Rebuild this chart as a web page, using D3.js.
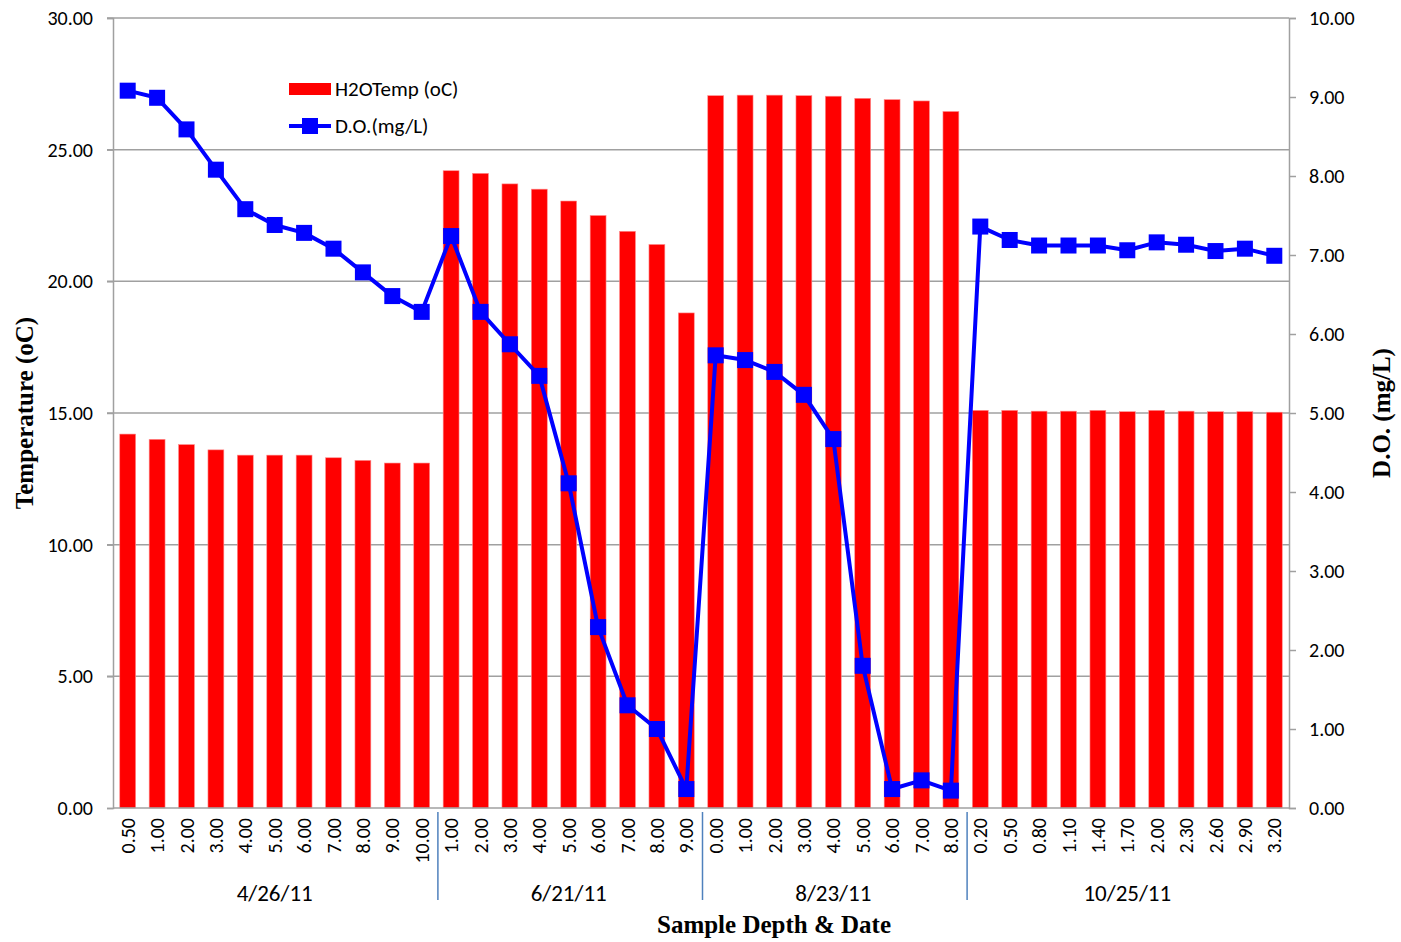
<!DOCTYPE html>
<html><head><meta charset="utf-8">
<script src="https://cdn.jsdelivr.net/npm/d3@7"></script>
<style>body{margin:0;background:#fff}</style>
</head><body>
<svg id="chart" width="1401" height="942"></svg>
<script>
const depthLabels = ["0.50","1.00","2.00","3.00","4.00","5.00","6.00","7.00","8.00","9.00","10.00",
  "1.00","2.00","3.00","4.00","5.00","6.00","7.00","8.00","9.00",
  "0.00","1.00","2.00","3.00","4.00","5.00","6.00","7.00","8.00",
  "0.20","0.50","0.80","1.10","1.40","1.70","2.00","2.30","2.60","2.90","3.20"];
const dateLabels = ["4/26/11","6/21/11","8/23/11","10/25/11"];
const groupSizes = [11, 9, 9, 11];
const tempValues = [14.2,14.0,13.8,13.6,13.4,13.4,13.4,13.3,13.2,13.1,13.1,
  24.2,24.1,23.7,23.5,23.05,22.5,21.9,21.4,18.8,
  27.05,27.07,27.07,27.05,27.03,26.95,26.9,26.85,26.45,
  15.1,15.1,15.07,15.07,15.1,15.05,15.1,15.07,15.05,15.05,15.03];
const doValues = [9.08,8.99,8.59,8.08,7.58,7.38,7.28,7.08,6.78,6.48,6.28,
  7.24,6.28,5.87,5.47,4.11,2.29,1.30,1.00,0.24,
  5.73,5.67,5.52,5.23,4.67,1.80,0.24,0.35,0.22,
  7.36,7.19,7.12,7.12,7.12,7.06,7.16,7.13,7.05,7.08,6.99];
const leftTicks = [0,5,10,15,20,25,30];
const rightTicks = [0,1,2,3,4,5,6,7,8,9,10];

const svg = d3.select("#chart");
const m = {left:113, right:1289, top:18, bottom:808};
const font = "Carlito, Lato, 'Open Sans', sans-serif";
const idx = d3.range(depthLabels.length);
const x = d3.scaleBand().domain(idx).range([m.left, m.right]).paddingInner(0.46).paddingOuter(0.23);
const yL = d3.scaleLinear().domain([0,30]).range([m.bottom, m.top]);
const yR = d3.scaleLinear().domain([0,10]).range([m.bottom, m.top]);
const step = x.step();
const cx = i => x(i) + x.bandwidth()/2;

// gridlines
svg.append("g").selectAll("line").data(leftTicks.filter(d=>d>0)).join("line")
  .attr("x1", m.left-6).attr("x2", m.right)
  .attr("y1", d=>yL(d)).attr("y2", d=>yL(d))
  .attr("stroke","#a0a0a0").attr("stroke-width",1.5);

// left axis
const gL = svg.append("g").attr("transform",`translate(${m.left},0)`)
  .call(d3.axisLeft(yL).tickValues(leftTicks).tickFormat(d3.format(".2f")).tickSize(6).tickPadding(14));
gL.select(".domain").attr("stroke","#a0a0a0").attr("stroke-width",1.5);
gL.selectAll(".tick line").attr("stroke","#a0a0a0").attr("stroke-width",1.5);
gL.selectAll("text").attr("font-family",font).attr("font-size",20).attr("fill","#000");

// right axis
const gR = svg.append("g").attr("transform",`translate(${m.right},0)`)
  .call(d3.axisRight(yR).tickValues(rightTicks).tickFormat(d3.format(".2f")).tickSize(7).tickPadding(13));
gR.select(".domain").attr("stroke","#a0a0a0").attr("stroke-width",1.5);
gR.selectAll(".tick line").attr("stroke","#a0a0a0").attr("stroke-width",1.5);
gR.selectAll("text").attr("font-family",font).attr("font-size",20).attr("fill","#000");

// bars
svg.append("g").selectAll("rect").data(idx).join("rect")
  .attr("x", i=>x(i)).attr("width", x.bandwidth())
  .attr("y", i=>yL(tempValues[i])).attr("height", i=>yL(0)-yL(tempValues[i]))
  .attr("fill","#ff0000").attr("stroke","#ff8c8c").attr("stroke-width",0.6);

// bottom axis line
svg.append("line").attr("x1",m.left).attr("x2",m.right).attr("y1",m.bottom).attr("y2",m.bottom)
  .attr("stroke","#a0a0a0").attr("stroke-width",1.5);

// DO line
svg.append("path").datum(idx)
  .attr("d", d3.line().x(i=>cx(i)).y(i=>yR(doValues[i])))
  .attr("fill","none").attr("stroke","#0000ff").attr("stroke-width",4).attr("stroke-linejoin","round");
svg.append("g").selectAll("rect").data(idx).join("rect")
  .attr("x", i=>cx(i)-8).attr("y", i=>yR(doValues[i])-8).attr("width",16).attr("height",16)
  .attr("fill","#0000ff");

// x tick labels
svg.append("g").selectAll("text").data(idx).join("text")
  .attr("transform", i=>`translate(${cx(i)+7},${m.bottom+10}) rotate(-90)`)
  .attr("text-anchor","end").attr("font-family",font).attr("font-size",20)
  .text(i=>depthLabels[i]);

// group separators and labels
let start = 0;
groupSizes.forEach((n, g) => {
  const x0 = m.left + start*step, x1 = m.left + (start+n)*step;
  if (g > 0) {
    svg.append("line").attr("x1",x0+1.5).attr("x2",x0+1.5).attr("y1",m.bottom+4).attr("y2",900)
      .attr("stroke","#4f81bd").attr("stroke-width",1.5);
  }
  svg.append("text").attr("x",(x0+x1)/2).attr("y",901).attr("text-anchor","middle")
    .attr("font-family",font).attr("font-size",23).text(dateLabels[g]);
  start += n;
});

// axis titles
const serif = "'Liberation Serif', 'Times New Roman', serif";
svg.append("text").attr("transform",`translate(33,413) rotate(-90)`).attr("text-anchor","middle")
  .attr("font-family",serif).attr("font-weight","bold").attr("font-size",25).text("Temperature (oC)");
svg.append("text").attr("transform",`translate(1390,413) rotate(-90)`).attr("text-anchor","middle")
  .attr("font-family",serif).attr("font-weight","bold").attr("font-size",25).text("D.O. (mg/L)");
svg.append("text").attr("x",774).attr("y",933).attr("text-anchor","middle")
  .attr("font-family",serif).attr("font-weight","bold").attr("font-size",25).text("Sample Depth & Date");

// legend
const lg = svg.append("g");
lg.append("rect").attr("x",289).attr("y",83).attr("width",42).attr("height",12).attr("fill","#ff0000");
lg.append("text").attr("x",335).attr("y",96).attr("font-family",font).attr("font-size",21).text("H2OTemp (oC)");
lg.append("line").attr("x1",289).attr("x2",331).attr("y1",126).attr("y2",126).attr("stroke","#0000ff").attr("stroke-width",4);
lg.append("rect").attr("x",302).attr("y",118).attr("width",16).attr("height",16).attr("fill","#0000ff");
lg.append("text").attr("x",335).attr("y",133).attr("font-family",font).attr("font-size",21).text("D.O.(mg/L)");
</script>
</body></html>
